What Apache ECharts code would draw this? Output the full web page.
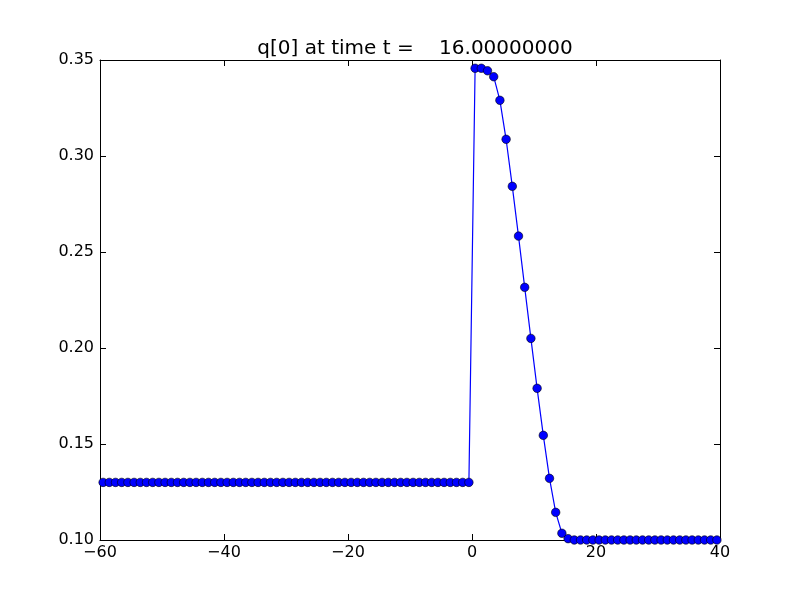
<!DOCTYPE html>
<html>
<head>
<meta charset="utf-8">
<script src="https://cdn.jsdelivr.net/npm/echarts@6/dist/echarts.min.js"></script>
<style>html,body{margin:0;padding:0;background:#fff;}#c{width:800px;height:600px;}</style>
</head>
<body>
<div id="c"></div>
<script>
var titleText = "q[0] at time t =    16.00000000";
var xStart = -59.5;   // first cell center
var xStep = 1;        // cell width
var qValues = [
  0.13,0.13,0.13,0.13,0.13,0.13,0.13,0.13,0.13,0.13,
  0.13,0.13,0.13,0.13,0.13,0.13,0.13,0.13,0.13,0.13,
  0.13,0.13,0.13,0.13,0.13,0.13,0.13,0.13,0.13,0.13,
  0.13,0.13,0.13,0.13,0.13,0.13,0.13,0.13,0.13,0.13,
  0.13,0.13,0.13,0.13,0.13,0.13,0.13,0.13,0.13,0.13,
  0.13,0.13,0.13,0.13,0.13,0.13,0.13,0.13,0.13,0.13,
  0.3457,0.3457,0.3444,0.3413,0.329,0.3087,0.2842,0.2583,0.2316,0.205,
  0.179,0.1545,0.1321,0.1144,0.1035,0.1007,0.1,0.1,0.1,0.1,
  0.1,0.1,0.1,0.1,0.1,0.1,0.1,0.1,0.1,0.1,
  0.1,0.1,0.1,0.1,0.1,0.1,0.1,0.1,0.1,0.1
];
var xTicks = [-60, -40, -20, 0, 20, 40];
var yTicks = [0.10, 0.15, 0.20, 0.25, 0.30, 0.35];

var data = qValues.map(function (v, i) { return [xStart + i * xStep, v]; });
var font = 'DejaVu Sans';
function fmtX(v) { return (v < 0 ? '\u2212' + Math.abs(v) : String(v)); }

var chart = echarts.init(document.getElementById('c'), null, {renderer: 'canvas'});
var axisCommon = {
  axisLine: {show: true, onZero: false, lineStyle: {color: '#000', width: 1}},
  axisTick: {show: true, inside: true, length: 6, lineStyle: {color: '#000', width: 1}},
  splitLine: {show: false}
};
chart.setOption({
  animation: false,
  backgroundColor: '#fff',
  title: {
    text: titleText, left: 410, top: 34, textAlign: 'center',
    textStyle: {fontFamily: font, fontSize: 20, fontWeight: 'normal', color: '#000'}
  },
  grid: {left: 100, right: 80, top: 60, bottom: 60},
  xAxis: [
    Object.assign({type: 'value', position: 'bottom', min: xTicks[0], max: xTicks[xTicks.length - 1], interval: 20,
      axisLabel: {show: true, color: '#000', fontFamily: font, fontSize: 16, margin: 5, formatter: fmtX}}, axisCommon),
    Object.assign({type: 'value', position: 'top', min: xTicks[0], max: xTicks[xTicks.length - 1], interval: 20,
      axisLabel: {show: false}}, axisCommon)
  ],
  yAxis: [
    Object.assign({type: 'value', position: 'left', min: yTicks[0], max: yTicks[yTicks.length - 1], interval: 0.05,
      axisLabel: {show: true, color: '#000', fontFamily: font, fontSize: 16, margin: 6,
        formatter: function (v) { return v.toFixed(2); }}}, axisCommon),
    Object.assign({type: 'value', position: 'right', min: yTicks[0], max: yTicks[yTicks.length - 1], interval: 0.05,
      axisLabel: {show: false}}, axisCommon)
  ],
  series: [{
    type: 'line', xAxisIndex: 0, yAxisIndex: 0, data: data,
    symbol: 'circle', symbolSize: 8.5, showSymbol: true,
    lineStyle: {color: '#0000ff', width: 1.2},
    itemStyle: {color: '#0000ff', borderColor: '#000', borderWidth: 0.6},
    clip: false
  }]
});
</script>
</body>
</html>
